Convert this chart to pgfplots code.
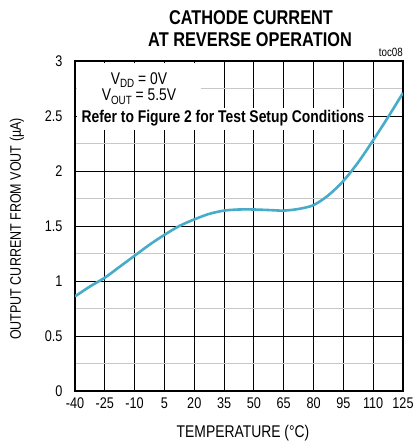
\documentclass[border=0pt]{standalone}
\usepackage{fontspec}
\setmainfont{Liberation Sans}[FakeStretch=0.82]
\usepackage{pgfplots}
\pgfplotsset{compat=1.18}
\definecolor{curve}{RGB}{70,172,202}

\begin{document}
\begin{tikzpicture}[x=1bp,y=1bp]
\path (0,0) rectangle (416,445);
\begin{axis}[
    at={(75bp,54bp)}, anchor=south west,
    scale only axis,
    width=328bp, height=330bp,
    xmin=-40, xmax=125, ymin=0, ymax=3,
    xtick={-40,-25,...,125},
    ytick={0,0.5,...,3},
    minor ytick={0.25,0.75,...,2.75},
    grid=both,
    major grid style={draw=black, line width=0.9bp},
    minor grid style={draw=black!22, line width=0.9bp},
    axis line style={line width=2.4bp},
    major tick length=0pt, minor tick length=0pt,
    tick style={draw=none},
    /pgf/number format/assume math mode=true,
    ticklabel style={font=\fontsize{15.5}{16}\selectfont},
    yticklabel style={xshift=-9bp},
    xticklabel style={yshift=-3bp},
    yticklabel={\pgfmathprintnumber[fixed,precision=1]{\tick}},
]
\addplot[curve, line width=2.6bp, smooth, tension=0.5] coordinates {
    (-40,0.86) (-32.5,0.95) (-25,1.03) (-17.5,1.13) (-10,1.23) (-2.5,1.33)
    (5,1.42) (12.5,1.50) (20,1.56) (27.5,1.61) (35,1.64) (42.5,1.65)
    (50,1.65) (57.5,1.645) (65,1.64) (72.5,1.655) (80,1.69) (87.5,1.78)
    (95,1.91) (102.5,2.08) (110,2.28) (117.5,2.49) (125,2.71)
};
\end{axis}
% white boxes behind the annotation
\fill[white] (77,337) rectangle (201,382);
\fill[white] (77,315) rectangle (368,337);
\node[font=\fontsize{17}{17}\selectfont] at (139,365) {V\raisebox{-0.4ex}{\fontsize{12}{12}\selectfont DD} = 0V};
\node[font=\fontsize{17}{17}\selectfont] at (139,348) {V\raisebox{-0.4ex}{\fontsize{12}{12}\selectfont OUT} = 5.5V};
\node[font=\fontsize{17}{17}\selectfont\bfseries] at (223,327) {Refer to Figure 2 for Test Setup Conditions};
% titles and labels
\node[font=\fontsize{20}{20}\selectfont\bfseries] at (251,427) {CATHODE CURRENT};
\node[font=\fontsize{20}{20}\selectfont\bfseries] at (250,405) {AT REVERSE OPERATION};
\node[font=\fontsize{12}{12}\selectfont, anchor=east, inner sep=0pt] at (403,393) {toc08};
\node[font=\fontsize{17}{17}\selectfont] at (243,12) {TEMPERATURE (°C)};
\node[font=\fontsize{15.3}{15.3}\selectfont, rotate=90] at (17,216) {OUTPUT CURRENT FROM VOUT (µA)};
\end{tikzpicture}
\end{document}
